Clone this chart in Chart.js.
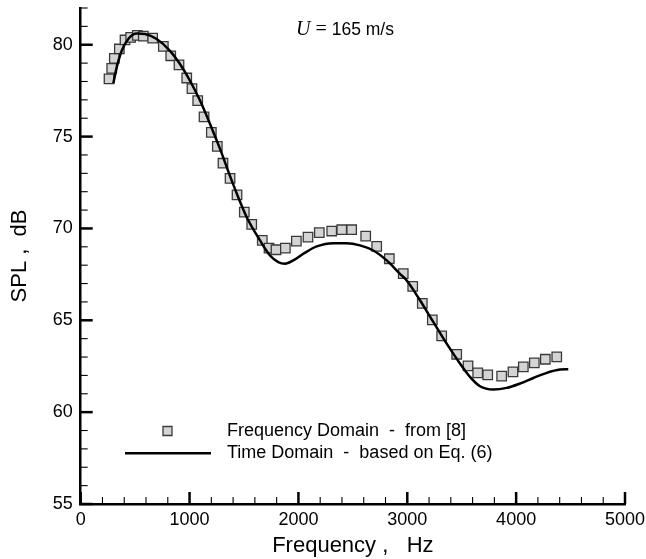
<!DOCTYPE html>
<html><head><meta charset="utf-8">
<script src="https://cdn.jsdelivr.net/npm/chart.js@4.4.1/dist/chart.umd.min.js"></script>
<style>html,body{margin:0;padding:0;background:#fff;}canvas{display:block;}</style>
</head><body>
<canvas id="c" width="646" height="559"></canvas>
<script>
// ---- data ----
const freqDomainHz  = [260,285,309,355,407,459,520,575,661,759,827,903,974,1022,1075,1133,1200,1255,1307,1372,1436,1503,1571,1668,1730,1794,1880,1981,2088,2192,2306,2398,2489,2618,2719,2835,2963,3050,3138,3230,3316,3454,3558,3647,3739,3867,3971,4066,4167,4268,4373];
const freqDomainSPL = [78.14,78.71,79.26,79.77,80.26,80.40,80.51,80.47,80.36,79.91,79.40,78.90,78.19,77.61,76.96,76.07,75.23,74.47,73.55,72.73,71.83,70.89,70.22,69.35,68.93,68.84,68.93,69.31,69.53,69.77,69.86,69.93,69.93,69.58,69.02,68.35,67.54,66.85,65.92,65.02,64.15,63.15,62.52,62.14,62.03,61.96,62.19,62.46,62.68,62.88,63.01];
const timeDomainHz  = [300,331,377,437,514,591,698,820,912,1004,1096,1188,1280,1372,1464,1525,1647,1739,1815,1877,1953,2045,2168,2320,2443,2566,2688,2811,2933,2995,3117,3239,3362,3484,3576,3668,3790,3913,4036,4158,4281,4403,4479];
const timeDomainSPL = [77.9,78.77,79.67,80.31,80.61,80.58,80.31,79.67,78.95,78.04,76.96,75.69,74.33,72.85,71.45,70.61,69.35,68.53,68.17,68.08,68.26,68.62,69.02,69.20,69.20,69.08,68.80,68.26,67.53,67.17,66.09,64.91,63.73,62.65,61.92,61.41,61.23,61.32,61.56,61.86,62.14,62.32,62.34];
const xTickValues = [0,1000,2000,3000,4000,5000];
const yTickValues = [55,60,65,70,75,80];
const xMinorStep = 200, yMinorStep = 1;
const xRange = [0,5000], yRange = [55,82];
const seriesLabels = ['Frequency Domain  -  from [8]', 'Time Domain  -  based on Eq. (6)'];
const xTitle = 'Frequency ,   Hz';
const yTitle = 'SPL ,  dB';
const titleParts = ['U', ' = ', '165 m/s'];

const FONT = "'Liberation Sans', Arial, Helvetica, sans-serif";
const SERIF = "'Liberation Serif', 'Times New Roman', serif";

const pts = (xs, ys) => xs.map((v,i)=>({x:v, y:ys[i]}));

const innerTicks = {
  id:'innerTicks',
  afterDraw(chart){
    const {ctx, chartArea:a, scales:{x,y}} = chart;
    ctx.save(); ctx.strokeStyle='#000'; ctx.lineCap='butt';
    for(let v=xRange[0]; v<=xRange[1]+1e-9; v+=xMinorStep){
      const p = x.getPixelForValue(v), major = xTickValues.includes(v);
      ctx.lineWidth = major?2.5:1.1;
      ctx.beginPath(); ctx.moveTo(p,a.bottom); ctx.lineTo(p,a.bottom-(major?12:7)); ctx.stroke();
    }
    for(let v=yRange[0]; v<=yRange[1]+1e-9; v+=yMinorStep){
      const p = y.getPixelForValue(v), major = yTickValues.includes(v);
      ctx.lineWidth = major?2.5:1.1;
      ctx.beginPath(); ctx.moveTo(a.left,p); ctx.lineTo(a.left+(major?12:7),p); ctx.stroke();
    }
    ctx.restore();
  }
};

const annot = {
  id:'annot',
  afterDraw(chart){
    const ctx = chart.ctx;
    ctx.save();
    // title
    ctx.fillStyle='#000'; ctx.textBaseline='alphabetic'; ctx.textAlign='left';
    let tx = 296;
    ctx.font = "italic 20px "+SERIF; ctx.fillText(titleParts[0], tx, 35); tx += ctx.measureText(titleParts[0]).width;
    ctx.font = "20px "+SERIF; ctx.fillText(titleParts[1], tx, 35); tx += ctx.measureText(titleParts[1]).width;
    ctx.font = "17.5px "+FONT; ctx.fillText(titleParts[2], tx, 35);
    // legend
    const ds0 = chart.data.datasets[1], ds1 = chart.data.datasets[0];
    ctx.fillStyle = ds0.backgroundColor; ctx.strokeStyle = ds0.borderColor; ctx.lineWidth = ds0.borderWidth;
    ctx.beginPath(); ctx.rect(163,426.5,9,9); ctx.fill(); ctx.stroke();
    ctx.strokeStyle = ds1.borderColor; ctx.lineWidth = ds1.borderWidth;
    ctx.beginPath(); ctx.moveTo(125,453.3); ctx.lineTo(211,453.3); ctx.stroke();
    ctx.fillStyle='#000'; ctx.font = "18px "+FONT; ctx.textBaseline='middle';
    ctx.fillText(seriesLabels[0], 227, 431);
    ctx.fillText(seriesLabels[1], 227, 453);
    ctx.restore();
  }
};

new Chart(document.getElementById('c'), {
  data:{
    datasets:[
      {type:'line', label:seriesLabels[1], data:pts(timeDomainHz,timeDomainSPL), borderColor:'#000', borderWidth:2.5,
       pointRadius:0, cubicInterpolationMode:'monotone', fill:false, order:0},
      {type:'scatter', label:seriesLabels[0], data:pts(freqDomainHz,freqDomainSPL), pointStyle:'rect', pointRadius:6.7,
       backgroundColor:'#d4d4d4', borderColor:'#3a3a3a', borderWidth:1.3, order:1}
    ]
  },
  options:{
    responsive:false, animation:false, devicePixelRatio:1,
    layout:{padding:{top:6.7,right:21,left:0,bottom:0}},
    plugins:{legend:{display:false}, tooltip:{enabled:false}},
    scales:{
      x:{type:'linear', min:xRange[0], max:xRange[1],
         afterBuildTicks(s){ s.ticks = xTickValues.map(v=>({value:v})); },
         ticks:{callback:v=>String(v), color:'#000', font:{family:FONT,size:18}, padding:5, maxRotation:0, autoSkip:false},
         grid:{display:false, drawTicks:false},
         border:{display:true, color:'#000', width:2.5},
         title:{display:true, text:xTitle, color:'#000', font:{family:FONT,size:22}, padding:{top:0,bottom:0}},
         afterFit(s){ s.height = 55; s.paddingLeft = 0; s.paddingRight = 0; }},
      y:{type:'linear', min:yRange[0], max:yRange[1],
         afterBuildTicks(s){ s.ticks = yTickValues.map(v=>({value:v})); },
         ticks:{callback:v=>String(v), color:'#000', font:{family:FONT,size:18}, padding:8, autoSkip:false},
         grid:{display:false, drawTicks:false},
         border:{display:true, color:'#000', width:2.5},
         title:{display:true, text:yTitle, color:'#000', font:{family:FONT,size:22}, padding:{top:7,bottom:0}},
         afterFit(s){ s.width = 80.7; s.paddingTop = 0; s.paddingBottom = 0; }}
    }
  },
  plugins:[innerTicks, annot]
});
</script>
</body></html>
